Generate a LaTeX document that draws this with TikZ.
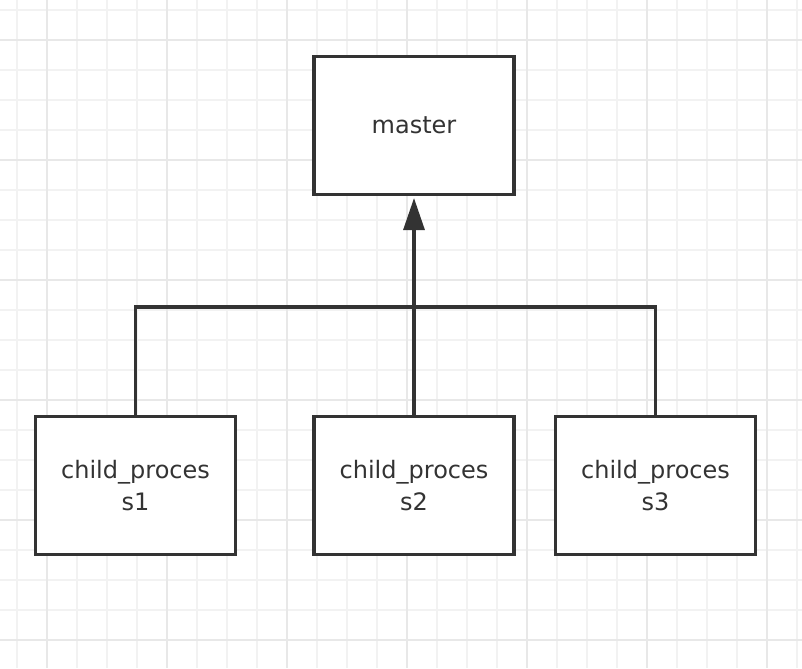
\documentclass[tikz,border=0pt]{standalone}
\usepackage{fontspec}
\setmainfont{DejaVu Sans}
\usetikzlibrary{arrows.meta}
\definecolor{ink}{HTML}{333333}
\definecolor{gridminor}{HTML}{F2F2F2}
\definecolor{gridmajor}{HTML}{E8E8E8}
\tikzset{
  procbox/.style={draw=ink, line width=2.4pt, fill=white, minimum width=150pt, minimum height=104pt, inner sep=0pt, align=center, text=ink, font=\fontsize{18pt}{23.8pt}\selectfont},
  link/.style={draw=ink, line width=2.4pt},
}
\begin{document}
\begin{tikzpicture}[x=0.75pt,y=-0.75pt]
\useasboundingbox (0,0) rectangle (802,668);
\fill[white] (0,0) rectangle (802,668);
% grid
\foreach \i in {0,...,26} \draw[gridminor, line width=1.2pt] ({16.7+30*\i},0) -- ({16.7+30*\i},668);
\foreach \j in {0,...,21} \draw[gridminor, line width=1.2pt] (0,{10+30*\j}) -- (802,{10+30*\j});
\foreach \i in {0,...,6} \draw[gridmajor, line width=1.2pt] ({46.7+120*\i},0) -- ({46.7+120*\i},668);
\foreach \j in {0,...,5} \draw[gridmajor, line width=1.2pt] (0,{40+120*\j}) -- (802,{40+120*\j});
% nodes
\node[procbox] (m) at (414,125.5) {master};
\node[procbox] (c1) at (135.5,485.5) {child\_proces\\s1};
\node[procbox] (c2) at (414,485.5) {child\_proces\\s2};
\node[procbox] (c3) at (655.5,485.5) {child\_proces\\s3};
\coordinate (j) at (414,307);
% connectors
\draw[link] (c1.north) |- (j) -| (c3.north);
\draw[link, -{Triangle[length=24pt, width=15.75pt]}, shorten >=1.2pt] (c2.north) -- (m.south);
\end{tikzpicture}
\end{document}
